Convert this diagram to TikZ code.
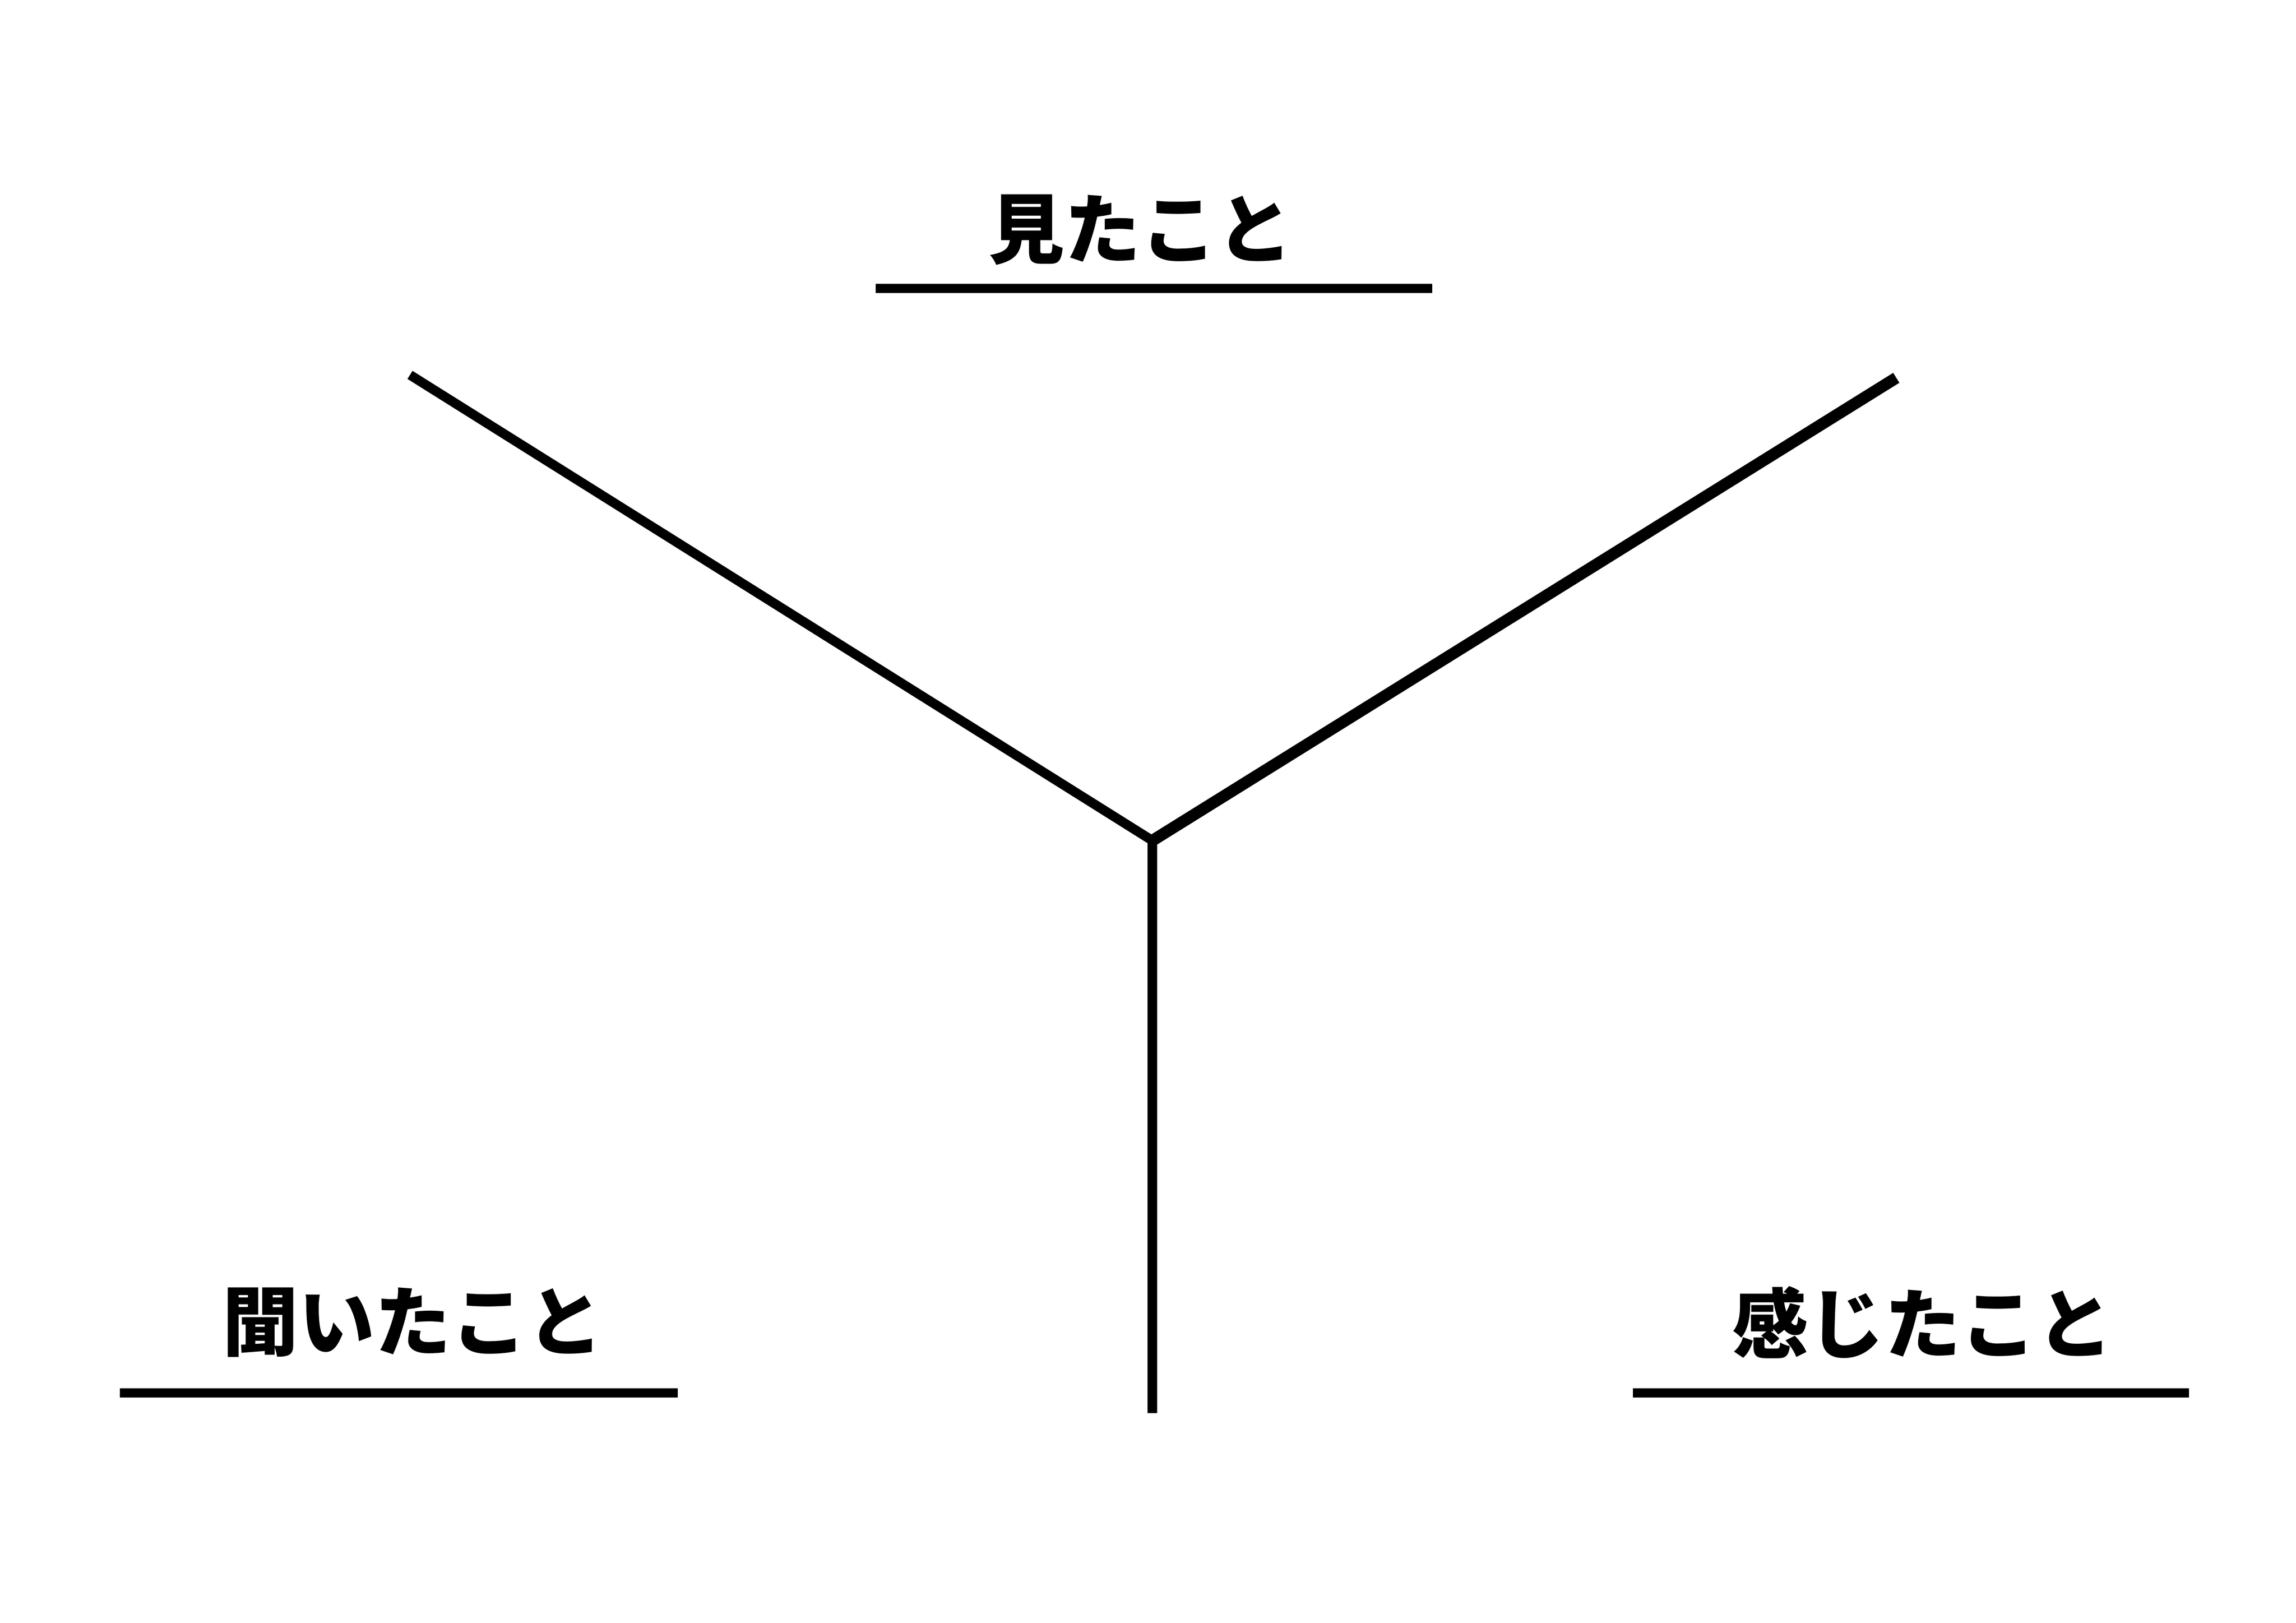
\documentclass[tikz,border=0pt]{standalone}
\usepackage{fontspec}
\newfontfamily\jp{Noto Sans CJK JP}
\begin{document}
\begin{tikzpicture}[x=0.018941cm,y=-0.018941cm,
  lbl/.style={font=\jp\bfseries\fontsize{28}{30}\selectfont, inner sep=0pt, anchor=center},
  uline/.style={line width=3.4pt},
  arm/.style={line width=3.5pt}]
\useasboundingbox (0,0) rectangle (1568,1108);
\node[lbl] (see) at (779,157) {見たこと};
\node[lbl] (hear) at (282,903) {聞いたこと};
\node[lbl] (feel) at (1313,903) {感じたこと};
\coordinate (c) at (787,574);
\coordinate (tl) at (280,256);
\coordinate (tr) at (1295,258);
\coordinate (bot) at (787,965);
\coordinate (u1a) at (598,197); \coordinate (u1b) at (978,197);
\coordinate (u2a) at (82,951); \coordinate (u2b) at (463,951);
\coordinate (u3a) at (1115,951); \coordinate (u3b) at (1495,951);
\draw[arm] (tl) -- (c);
\draw[arm, line width=4.3pt] (tr) -- (c);
\draw[arm] (c) -- (bot);
\draw[uline] (u1a) -- (u1b);
\draw[uline] (u2a) -- (u2b);
\draw[uline] (u3a) -- (u3b);
\end{tikzpicture}
\end{document}
